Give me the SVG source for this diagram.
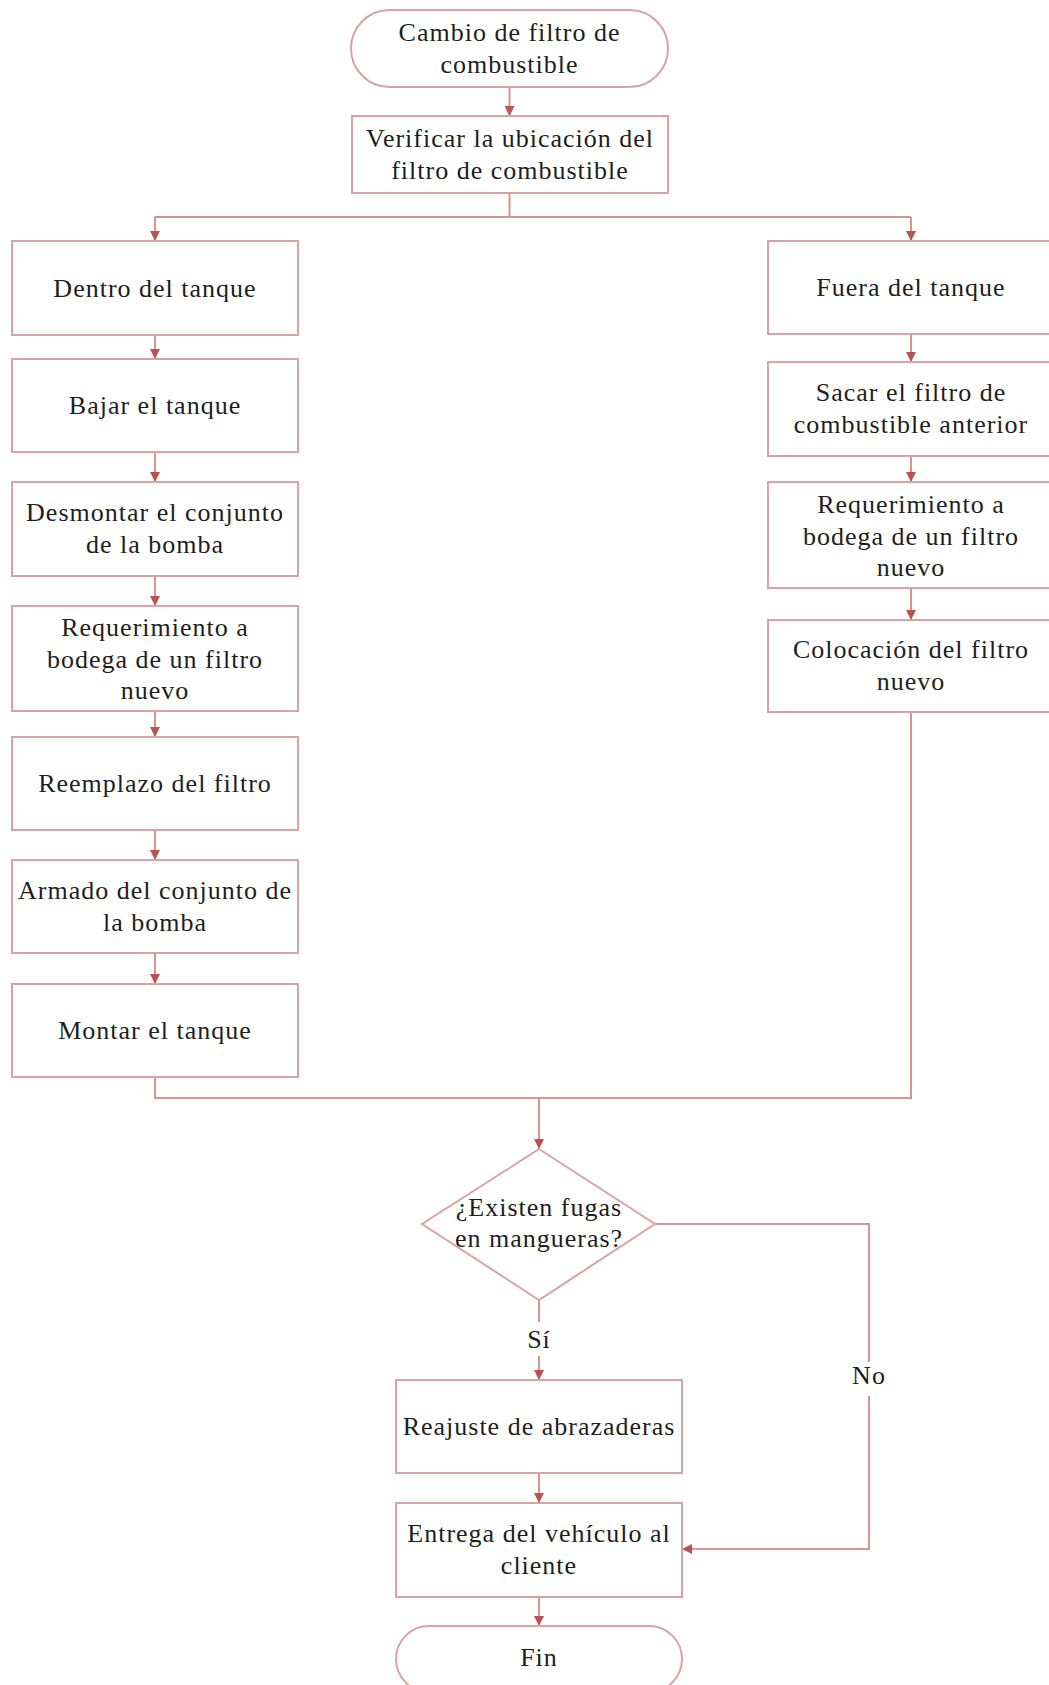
<svg xmlns="http://www.w3.org/2000/svg" width="1049" height="1685" viewBox="0 0 1049 1685">
<defs>
<marker id="ah" viewBox="0 0 10 10" refX="10" refY="5" markerWidth="10" markerHeight="10" markerUnits="userSpaceOnUse" orient="auto">
<path d="M0,0 L10,5 L0,10 Z" fill="#c0504d"/>
</marker>
<style>
.n{fill:#fff;stroke:#d9a3a3;stroke-width:2}
.t{font-family:"Liberation Serif","Times New Roman",serif;font-size:26px;letter-spacing:1px;fill:#1e1e1e;text-anchor:middle}
.c{fill:none;stroke:#d69393;stroke-width:2}
.a{marker-end:url(#ah)}
</style>
</defs>
<rect width="1049" height="1685" fill="#fff"/>
<g id="connectors">
<path class="c a" d="M509.5,87 V116"/>
<path class="c" d="M509.5,193 V217 M155,217 H911"/>
<path class="c a" d="M155,217 V241"/>
<path class="c a" d="M911,217 V241"/>
<path class="c a" d="M155,335 V359"/>
<path class="c a" d="M155,452 V482"/>
<path class="c a" d="M155,576 V606"/>
<path class="c a" d="M155,711 V737"/>
<path class="c a" d="M155,830 V860"/>
<path class="c a" d="M155,953 V984"/>
<path class="c a" d="M911,334 V362"/>
<path class="c a" d="M911,456 V482"/>
<path class="c a" d="M911,588 V620"/>
<path class="c" d="M155,1077 V1098 H911 V712"/>
<path class="c a" d="M539,1098 V1149"/>
<path class="c" d="M539,1300 V1322"/>
<path class="c a" d="M539,1356 V1380"/>
<path class="c" d="M655,1224 H869 V1362"/>
<path class="c a" d="M869,1396 V1549 H682"/>
<path class="c a" d="M539,1473 V1503"/>
<path class="c a" d="M539,1597 V1626"/>
<text class="t" x="539" y="1348">Sí</text>
<text class="t" x="869" y="1384">No</text>
</g>
<g id="start"><rect class="n" x="351" y="10" width="317" height="77" rx="38.5"/><text class="t" x="509.5" y="41">Cambio de filtro de</text><text class="t" x="509.5" y="73">combustible</text></g>
<g id="verificar"><rect class="n" x="352" y="116" width="316" height="77"/><text class="t" x="510" y="147">Verificar la ubicación del</text><text class="t" x="510" y="179">filtro de combustible</text></g>
<g id="dentro"><rect class="n" x="12" y="241" width="286" height="94"/><text class="t" x="155" y="297">Dentro del tanque</text></g>
<g id="bajar"><rect class="n" x="12" y="359" width="286" height="93"/><text class="t" x="155" y="414">Bajar el tanque</text></g>
<g id="desmontar"><rect class="n" x="12" y="482" width="286" height="94"/><text class="t" x="155" y="521">Desmontar el conjunto</text><text class="t" x="155" y="553">de la bomba</text></g>
<g id="requerimiento-izq"><rect class="n" x="12" y="606" width="286" height="105"/><text class="t" x="155" y="636">Requerimiento a</text><text class="t" x="155" y="668">bodega de un filtro</text><text class="t" x="155" y="699">nuevo</text></g>
<g id="reemplazo"><rect class="n" x="12" y="737" width="286" height="93"/><text class="t" x="155" y="792">Reemplazo del filtro</text></g>
<g id="armado"><rect class="n" x="12" y="860" width="286" height="93"/><text class="t" x="155" y="899">Armado del conjunto de</text><text class="t" x="155" y="931">la bomba</text></g>
<g id="montar"><rect class="n" x="12" y="984" width="286" height="93"/><text class="t" x="155" y="1039">Montar el tanque</text></g>
<g id="fuera"><rect class="n" x="768" y="241" width="286" height="93"/><text class="t" x="911" y="296">Fuera del tanque</text></g>
<g id="sacar"><rect class="n" x="768" y="362" width="286" height="94"/><text class="t" x="911" y="401">Sacar el filtro de</text><text class="t" x="911" y="433">combustible anterior</text></g>
<g id="requerimiento-der"><rect class="n" x="768" y="482" width="286" height="106"/><text class="t" x="911" y="513">Requerimiento a</text><text class="t" x="911" y="545">bodega de un filtro</text><text class="t" x="911" y="576">nuevo</text></g>
<g id="colocacion"><rect class="n" x="768" y="620" width="286" height="92"/><text class="t" x="911" y="658">Colocación del filtro</text><text class="t" x="911" y="690">nuevo</text></g>
<g id="decision"><polygon class="n" points="539,1149 655,1224 539,1300 422,1224"/><text class="t" x="539" y="1216">¿Existen fugas</text><text class="t" x="539" y="1247">en mangueras?</text></g>
<g id="reajuste"><rect class="n" x="396" y="1380" width="286" height="93"/><text class="t" x="539" y="1435">Reajuste de abrazaderas</text></g>
<g id="entrega"><rect class="n" x="396" y="1503" width="286" height="94"/><text class="t" x="539" y="1542">Entrega del vehículo al</text><text class="t" x="539" y="1574">cliente</text></g>
<g id="fin"><rect class="n" x="396" y="1626" width="286" height="66" rx="33"/><text class="t" x="539" y="1666">Fin</text></g>
</svg>
